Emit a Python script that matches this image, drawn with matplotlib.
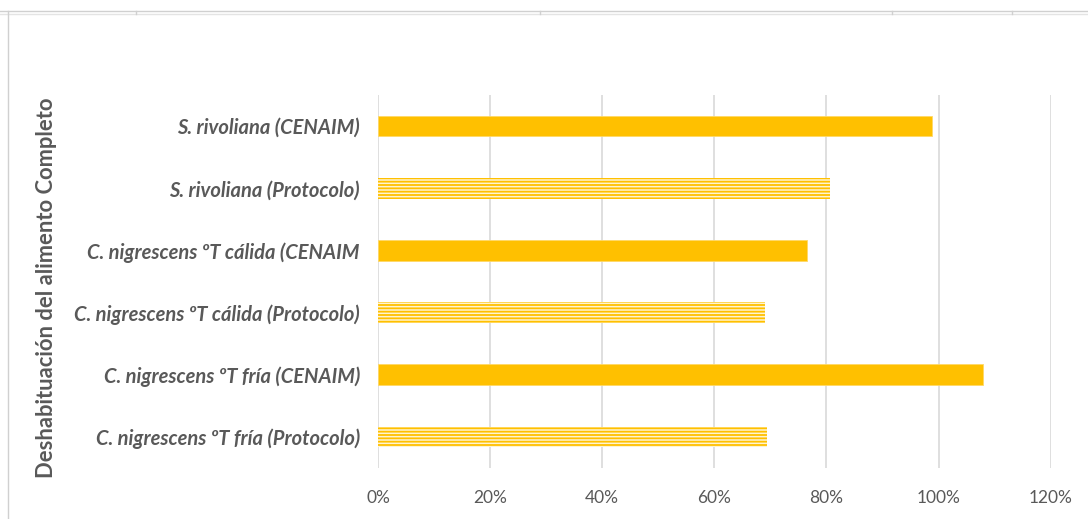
import matplotlib
matplotlib.use("Agg")
import matplotlib.pyplot as plt
from matplotlib.lines import Line2D
from matplotlib.ticker import PercentFormatter

plt.rcParams['font.family'] = ['Lato', 'DejaVu Sans']

categories = [
    "S. rivoliana (CENAIM)",
    "S. rivoliana (Protocolo)",
    "C. nigrescens ºT cálida (CENAIM",
    "C. nigrescens ºT cálida (Protocolo)",
    "C. nigrescens ºT fría (CENAIM)",
    "C. nigrescens ºT fría (Protocolo)",
]
values = [0.988, 0.806, 0.766, 0.691, 1.079, 0.694]
is_protocol = [False, True, False, True, False, True]
x_ticks = [0, 0.2, 0.4, 0.6, 0.8, 1.0, 1.2]
y_title = "Deshabituación del alimento Completo"

GOLD = "#FFC000"
GREY_TXT = "#595959"
GRID = "#D9D9D9"

fig = plt.figure(figsize=(10.88, 5.19), dpi=100)
ax = fig.add_axes([0.3474, 0.0983, 0.6183, 0.7187])

plt.rcParams['hatch.linewidth'] = 1.3
pos = list(range(len(categories)))
for p, v, proto in zip(pos, values, is_protocol):
    if proto:
        ax.barh(p, v, height=1/3, facecolor="#FFF4D1", edgecolor=GOLD,
                hatch="-----", linewidth=0.0, zorder=3)
    else:
        ax.barh(p, v, height=1/3, color=GOLD, edgecolor="#FFD966",
                linewidth=0.6, zorder=3)

ax.set_ylim(len(categories) - 0.5, -0.5)
ax.set_xlim(0, 1.2)
ax.set_yticks(pos)
ax.set_yticklabels(categories, fontsize=14.5, fontweight="bold",
                   fontstyle="italic", color=GREY_TXT)
ax.set_xticks(x_ticks)
ax.xaxis.set_major_formatter(PercentFormatter(1.0, decimals=0))
for lbl in ax.get_xticklabels():
    lbl.set_fontsize(12.5)
    lbl.set_color(GREY_TXT)
ax.tick_params(axis="y", length=0, pad=13)
ax.tick_params(axis="x", length=0, pad=16)
ax.grid(axis="x", color=GRID, linewidth=1.2, zorder=0)
for s in ax.spines.values():
    s.set_visible(False)

fig.text(0.0425, 0.446, y_title, rotation=90, ha="center", va="center",
         fontsize=15.8, fontweight="bold", color=GREY_TXT)

# surrounding sheet frame lines
fig.add_artist(Line2D([0, 1], [1 - 11/519, 1 - 11/519], transform=fig.transFigure,
                      color="#D0D0D0", linewidth=1.0))
fig.add_artist(Line2D([0, 1], [1 - 14/519, 1 - 14/519], transform=fig.transFigure,
                      color="#E4E4E4", linewidth=1.0))
fig.add_artist(Line2D([8/1088, 8/1088], [0, 1 - 11/519], transform=fig.transFigure,
                      color="#D0D0D0", linewidth=1.0))
for xp in [136, 540, 892, 1012]:
    fig.add_artist(Line2D([xp/1088, xp/1088], [1 - 11/519, 1 - 14/519],
                          transform=fig.transFigure, color="#D0D0D0", linewidth=1.0))

fig.savefig("out.png", dpi=100, facecolor="white")
